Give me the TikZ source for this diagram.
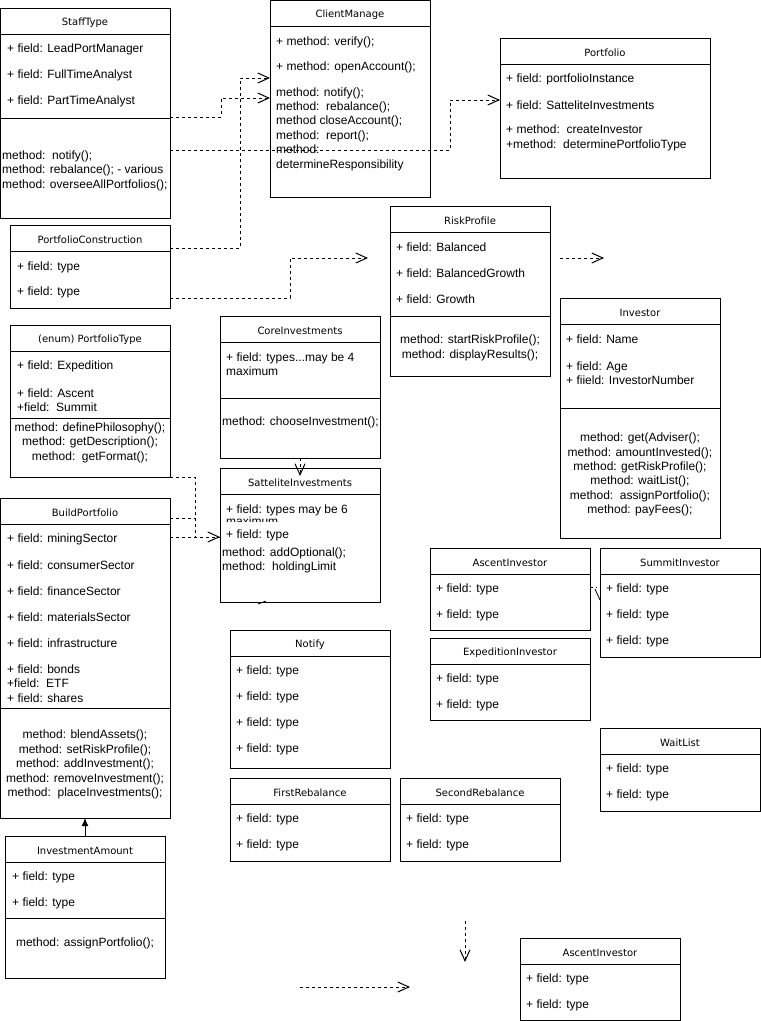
\documentclass[tikz,border=0pt]{standalone}
\usepackage{fontspec}
\setmainfont{Liberation Sans}
\newfontfamily\titlefont{DejaVu Sans}
\usetikzlibrary{arrows.meta}

% class box with a title compartment: name, x, y, width, height, title
\newcommand\umlclass[6]{%
  \node[box, minimum width=#4pt, minimum height=#5pt] (#1) at (#2,#3) {};
  \draw[line width=1pt] ([yshift=-26pt]#1.north west) -- ([yshift=-26pt]#1.north east);
  \node[ttl] (#1-title) at ([yshift=-14pt]#1.north) {#6};
}
% separator between fields and methods: name, offset from top
\newcommand\umlsep[2]{%
  \draw[line width=1pt] ([yshift=-#2pt]#1.north west) -- ([yshift=-#2pt]#1.north east);
}

\begin{document}
\begin{tikzpicture}[x=1pt,y=-1pt,
  box/.style={draw, fill=white, line width=1pt, anchor=north west, inner sep=0pt, outer sep=0pt},
  ttl/.style={font=\titlefont\fontsize{10}{12}\selectfont, inner sep=0pt, yshift=-1pt},
  txt/.style={font=\fontsize{12}{14.4}\selectfont, anchor=west, align=left, inner sep=0pt, yshift=-2pt},
  ctr/.style={font=\fontsize{12}{14.4}\selectfont, align=center, inner sep=0pt, yshift=-2pt},
  dline/.style={dash pattern=on 3pt off 3pt, line width=1pt},
  dep/.style={dline, -{Straight Barb[length=11pt,width=10pt]}},
]
\useasboundingbox[fill=white] (0,0) rectangle (761,1021);

% ---------------- StaffType
\umlclass{st}{0}{8}{170}{210}{StaffType}
\node[txt] (st1) at (7,47) {+ field: LeadPortManager};
\node[txt] (st2) at (7,73) {+ field: FullTimeAnalyst};
\node[txt] (st3) at (7,99) {+ field: PartTimeAnalyst};
\umlsep{st}{110}
\node[txt] (st4) at (2,168.5) {method:\ \ notify();\\method: rebalance(); - various\\method: overseeAllPortfolios();};

% ---------------- ClientManage
\umlclass{cm}{270}{0}{160}{197}{ClientManage}
\node[txt] (cm1) at (276,40) {+ method: verify();};
\node[txt] (cm2) at (276,65) {+ method: openAccount();};
\node[txt] (cm3) at (276,127) {method: notify();\\method:\ \ rebalance();\\method closeAccount();\\method:\ \ report();\\method:\\determineResponsibility};

% ---------------- Portfolio
\umlclass{pf}{500}{38}{210}{140}{Portfolio}
\node[txt] (pf1) at (506,77) {+ field: portfolioInstance};
\node[txt] (pf2) at (506,103) {+ field: SatteliteInvestments};
\node[txt] (pf3) at (506,136) {+ method:\ \ createInvestor\\+method:\ \ determinePortfolioType};

% ---------------- PortfolioConstruction
\umlclass{pc}{10}{225}{160}{83}{PortfolioConstruction}
\node[txt] (pc1) at (17,265) {+ field: type};
\node[txt] (pc2) at (17,290) {+ field: type};

% ---------------- PortfolioType
\umlclass{pt}{10}{325}{160}{152}{(enum) PortfolioType}
\node[txt] (pt1) at (17,364) {+ field: Expedition};
\node[txt] (pt2) at (17,398) {+ field: Ascent\\+field:\ \ Summit};
\umlsep{pt}{93}
\node[ctr] (pt3) at (90,440.5) {method: definePhilosophy();\\method: getDescription();\\method:\ \ getFormat();};

% ---------------- BuildPortfolio
\umlclass{bp}{0}{498}{170}{320}{BuildPortfolio}
\node[txt] (bp1) at (7,537) {+ field: miningSector};
\node[txt] (bp2) at (7,563) {+ field: consumerSector};
\node[txt] (bp3) at (7,589) {+ field: financeSector};
\node[txt] (bp4) at (7,615) {+ field: materialsSector};
\node[txt] (bp5) at (7,641) {+ field: infrastructure};
\node[txt] (bp6) at (7,681.5) {+ field: bonds\\+field:\ \ ETF\\+ field: shares};
\umlsep{bp}{210}
\node[ctr] (bp7) at (85,762.5) {method: blendAssets();\\method: setRiskProfile();\\method: addInvestment();\\method: removeInvestment();\\method:\ \ placeInvestments();};

% ---------------- InvestmentAmount
\umlclass{ia}{5}{836}{160}{142}{InvestmentAmount}
\node[txt] (ia1) at (12,875) {+ field: type};
\node[txt] (ia2) at (12,901) {+ field: type};
\umlsep{ia}{82}
\node[ctr] (ia3) at (85,941) {method: assignPortfolio();};

% ---------------- CoreInvestments
\umlclass{ci}{220}{316}{160}{142}{CoreInvestments}
\node[txt] (ci1) at (226,362) {+ field: types...may be 4\\maximum};
\umlsep{ci}{82}
\node[txt] (ci2) at (222,420) {method: chooseInvestment();};

% ---------------- SatteliteInvestments
\umlclass{si}{220}{468}{160}{134}{SatteliteInvestments}
\node[txt] (si1) at (226,508) {+ field: types may be 6};
% second line of the first field is cut off by the row below it
\begin{scope}
  \clip (221,512) rectangle (379,521);
  \node[txt] (si2) at (226,523) {\smash{maximum}};
\end{scope}
\node[txt] (si3) at (226,533) {+ field: type};
\node[txt] (si4) at (222,558.5) {method: addOptional();\\method:\ \ holdingLimit};

% ---------------- RiskProfile
\umlclass{rp}{390}{206}{160}{170}{RiskProfile}
\node[txt] (rp1) at (396,245) {+ field: Balanced};
\node[txt] (rp2) at (396,271) {+ field: BalancedGrowth};
\node[txt] (rp3) at (396,297) {+ field: Growth};
\umlsep{rp}{110}
\node[ctr] (rp4) at (470,346) {method: startRiskProfile();\\method: displayResults();};

% ---------------- Investor
\umlclass{iv}{560}{298}{160}{240}{Investor}
\node[txt] (iv1) at (566,337) {+ field: Name};
\node[txt] (iv2) at (566,371) {+ field: Age\\+ fiield: InvestorNumber};
\umlsep{iv}{110}
\node[ctr] (iv3) at (640,472.5) {method: get(Adviser();\\method: amountInvested();\\method: getRiskProfile();\\method: waitList();\\method:\ \ assignPortfolio();\\method: payFees();};

% ---------------- investor kinds
\umlclass{ai}{430}{548}{160}{82}{AscentInvestor}
\node[txt] (ai1) at (436,587) {+ field: type};
\node[txt] (ai2) at (436,613) {+ field: type};

\umlclass{su}{600}{548}{160}{109}{SummitInvestor}
\node[txt] (su1) at (606,587) {+ field: type};
\node[txt] (su2) at (606,613) {+ field: type};
\node[txt] (su3) at (606,639) {+ field: type};

\umlclass{ei}{430}{638}{160}{82}{ExpeditionInvestor}
\node[txt] (ei1) at (436,677) {+ field: type};
\node[txt] (ei2) at (436,703) {+ field: type};

\umlclass{wl}{600}{728}{160}{83}{WaitList}
\node[txt] (wl1) at (606,767) {+ field: type};
\node[txt] (wl2) at (606,793) {+ field: type};

% ---------------- notifications and rebalancing
\umlclass{nt}{230}{630}{160}{138}{Notify}
\node[txt] (nt1) at (236,669) {+ field: type};
\node[txt] (nt2) at (236,695) {+ field: type};
\node[txt] (nt3) at (236,721) {+ field: type};
\node[txt] (nt4) at (236,747) {+ field: type};

\umlclass{fr}{230}{778}{160}{83}{FirstRebalance}
\node[txt] (fr1) at (236,817) {+ field: type};
\node[txt] (fr2) at (236,843) {+ field: type};

\umlclass{sr}{400}{778}{160}{83}{SecondRebalance}
\node[txt] (sr1) at (406,817) {+ field: type};
\node[txt] (sr2) at (406,843) {+ field: type};

\umlclass{ab}{520}{938}{160}{82}{AscentInvestor}
\node[txt] (ab1) at (526,977) {+ field: type};
\node[txt] (ab2) at (526,1003) {+ field: type};

% ---------------- free connector ends
\coordinate (rpin) at (368,258);
\coordinate (ra1) at (560,258);
\coordinate (ra2) at (604,258);
\coordinate (ba1) at (300,987);
\coordinate (ba2) at (410,987);
\coordinate (va1) at (465,921);
\coordinate (va2) at (465,962);
\coordinate (sx1) at (597,587);
\coordinate (sb1) at (595,589);
\coordinate (sb2) at (600,600);
\coordinate (fg1) at (258,604);
\coordinate (fg2) at (266,601);

% ---------------- dependencies
\draw[dep] (st.east |- 0,117) -- (221,117) |- (cm.west |- 0,98);
\draw[dep] (st.east |- 0,150) -- (450,150) |- (pf.west |- 0,100);
\draw[dep] (pc.east |- 0,248) -- (240,248) |- (cm.west |- 0,78);
\draw[dep] (pc.east |- 0,298) -- (290,298) |- (rpin);
\draw[dep] (ra1) -- (ra2);
\draw[dline] (pt.east |- 0,477) -- (195,477) |- (si.west |- 0,537);
\draw[dline] (bp.east |- 0,518) -- (195,518);
\draw[dep] (bp.east |- 0,537) -- (si.west |- 0,537);
\draw[dep] (ci.south) -- ([yshift=-8pt]si.north);
\draw[line width=1pt, -{Latex[length=8pt,width=7pt]}] (ia.north) -- (bp.south);
\draw[dep] (ba1) -- (ba2);
\draw[dep] (va1) -- (va2);
\draw[dline] (ai.east |- 0,587) -- (sx1);
\draw[line width=0.8pt] (sb1) -- (sb2);
\draw[line width=0.8pt] (fg1) -- (fg2);
\end{tikzpicture}
\end{document}
